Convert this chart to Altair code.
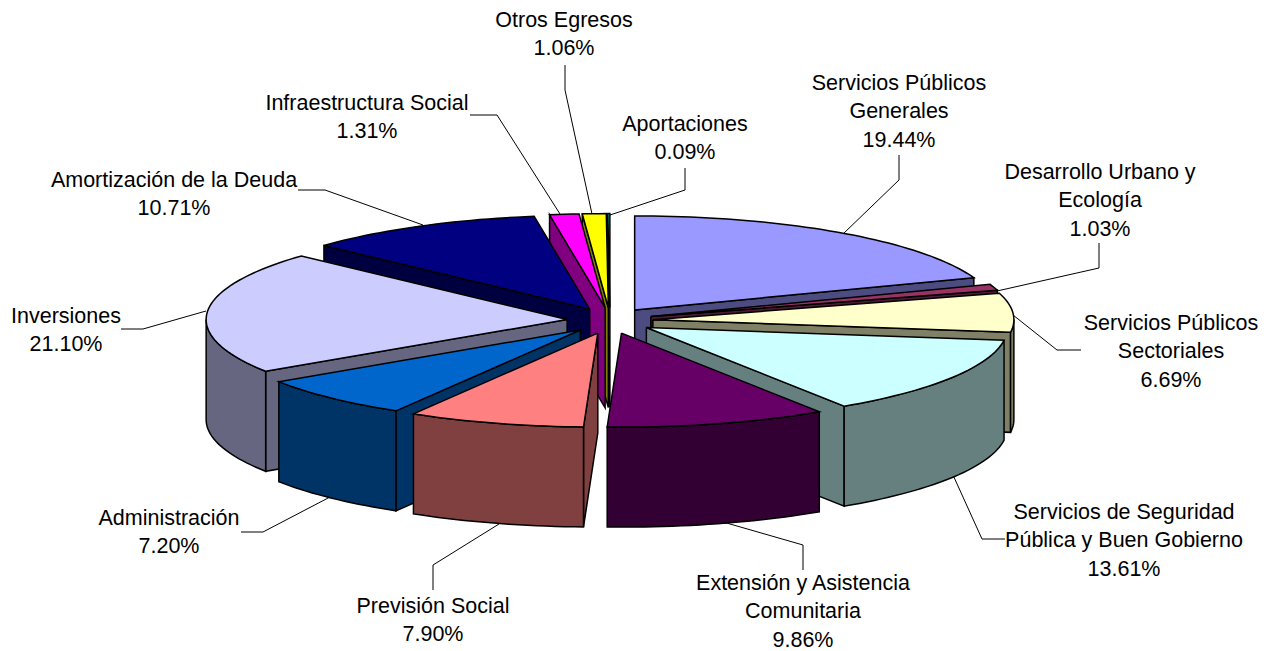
import math
import altair as alt
import pandas as pd

names = ["Servicios Públicos Generales", "Desarrollo Urbano y Ecología", "Servicios Públicos Sectoriales",
         "Servicios de Seguridad Pública y Buen Gobierno", "Extensión y Asistencia Comunitaria", "Previsión Social",
         "Administración", "Inversiones", "Amortización de la Deuda", "Infraestructura Social", "Otros Egresos", "Aportaciones"]
values = [19.44, 1.03, 6.69, 13.61, 9.86, 7.90, 7.20, 21.10, 10.71, 1.31, 1.06, 0.09]
top_colors = ["#9999FF", "#993366", "#FFFFCC", "#CCFFFF", "#660066", "#FF8080",
              "#0066CC", "#CCCCFF", "#000080", "#FF00FF", "#FFFF00", "#00FFFF"]
side_colors = ["#4C4C80", "#4D1A33", "#808066", "#668080", "#330033", "#804040",
               "#003366", "#666680", "#000040", "#800080", "#808000", "#008080"]
paint_order = [11, 10, 9, 8, 0, 1, 2, 7, 6, 3, 4, 5]

label_lines = [["Servicios Públicos", "Generales", "19.44%"], ["Desarrollo Urbano y", "Ecología", "1.03%"],
               ["Servicios Públicos", "Sectoriales", "6.69%"], ["Servicios de Seguridad", "Pública y Buen Gobierno", "13.61%"],
               ["Extensión y Asistencia", "Comunitaria", "9.86%"], ["Previsión Social", "7.90%"], ["Administración", "7.20%"],
               ["Inversiones", "21.10%"], ["Amortización de la Deuda", "10.71%"], ["Infraestructura Social", "1.31%"],
               ["Otros Egresos", "1.06%"], ["Aportaciones", "0.09%"]]
label_x = [899, 1100, 1171, 1124, 803, 433, 169, 66, 174, 367, 564, 685]
label_y = [84, 173, 324, 513, 584, 607, 519, 317, 181, 104, 21, 125]
leaders = [[(899, 155), (899, 180), (843, 234)], [(1099, 243), (1099, 268), (997, 291)],
           [(1081, 350), (1057, 350), (1013, 315)], [(1005, 539), (982, 539), (953, 475)],
           [(803, 570), (803, 545), (723, 522)], [(433, 590), (433, 565), (499, 524)],
           [(241, 532), (263, 532), (330, 497)], [(121, 329), (143, 329), (206, 311)],
           [(298, 190), (325, 190), (423, 225)], [(470, 115), (497, 115), (560, 214)],
           [(565, 65), (565, 90), (592, 214)], [(685, 168), (685, 190), (610, 215)]]

CX, CY, EX, EY, A, B, H = 610, 320.6, 43, 13, 361, 94, 100


def pt(ox, oy, deg):
    r = math.radians(deg)
    return ox + A * math.sin(r), oy - B * math.cos(r)


def arc(ox, oy, a, b):
    n = max(2, int(abs(b - a) / 1.5) + 2)
    return [pt(ox, oy, a + (b - a) * i / (n - 1)) for i in range(n)]


rows = []
poly = 0


def add(points, color):
    global poly
    pts = points + [points[0]]
    for i, (x, y) in enumerate(pts):
        rows.append({"poly": poly, "i": i, "x": x, "y": y, "color": color})
    poly += 1


edges = [0.0]
for v in values:
    edges.append(edges[-1] + v * 3.6)

for k in paint_order:
    a, b = edges[k], min(edges[k + 1], 360)
    mid = math.radians((a + b) / 2)
    ox, oy = CX + EX * math.sin(mid), CY - EY * math.cos(mid)
    down = lambda ps: [(x, y + H) for x, y in ps]
    if 180 <= a < 360:
        e = [(ox, oy), pt(ox, oy, a)]
        add(e + down(e)[::-1], side_colors[k])
    if 0 < b <= 180:
        e = [(ox, oy), pt(ox, oy, b)]
        add(e + down(e)[::-1], side_colors[k])
    lo, hi = max(a, 90), min(b, 270)
    if lo < hi:
        e = arc(ox, oy, lo, hi)
        add(e + down(e)[::-1], side_colors[k])
    add([(ox, oy)] + arc(ox, oy, a, b), top_colors[k])

X = alt.Scale(domain=[8, 1262], range=[0, 1254], nice=False, zero=False)
Y = alt.Scale(domain=[8, 651], range=[0, 643], nice=False, zero=False)
xe = alt.X("x:Q", scale=X, axis=None)
ye = alt.Y("y:Q", scale=Y, axis=None)

shapes = alt.Chart(pd.DataFrame(rows)).mark_line(stroke="black", strokeWidth=1.5, strokeJoin="miter", clip=False).encode(
    x=xe, y=ye, detail="poly:N", order="i:Q", fill=alt.Fill("color:N", scale=None))

lead_rows = [{"k": n, "i": i, "x": p[0], "y": p[1]} for n, l in enumerate(leaders) for i, p in enumerate(l)]
lines = alt.Chart(pd.DataFrame(lead_rows)).mark_line(color="black", strokeWidth=1).encode(
    x=xe, y=ye, detail="k:N", order="i:Q")

LINE = 28.4
text_rows = [{"t": t, "x": label_x[n], "y": label_y[n] + j * LINE}
             for n, ls in enumerate(label_lines) for j, t in enumerate(ls)]
texts = alt.Chart(pd.DataFrame(text_rows)).mark_text(font="Liberation Sans", fontSize=21.5, color="black",
                                                     align="center", baseline="middle").encode(
    x=xe, y=ye, text="t:N")

chart = alt.layer(lines, shapes, texts).properties(width=1254, height=643, padding=0, autosize=alt.AutoSizeParams(type="none")).configure_view(stroke=None)
chart.save("out.html", embed_options={"renderer": "svg", "actions": False})
